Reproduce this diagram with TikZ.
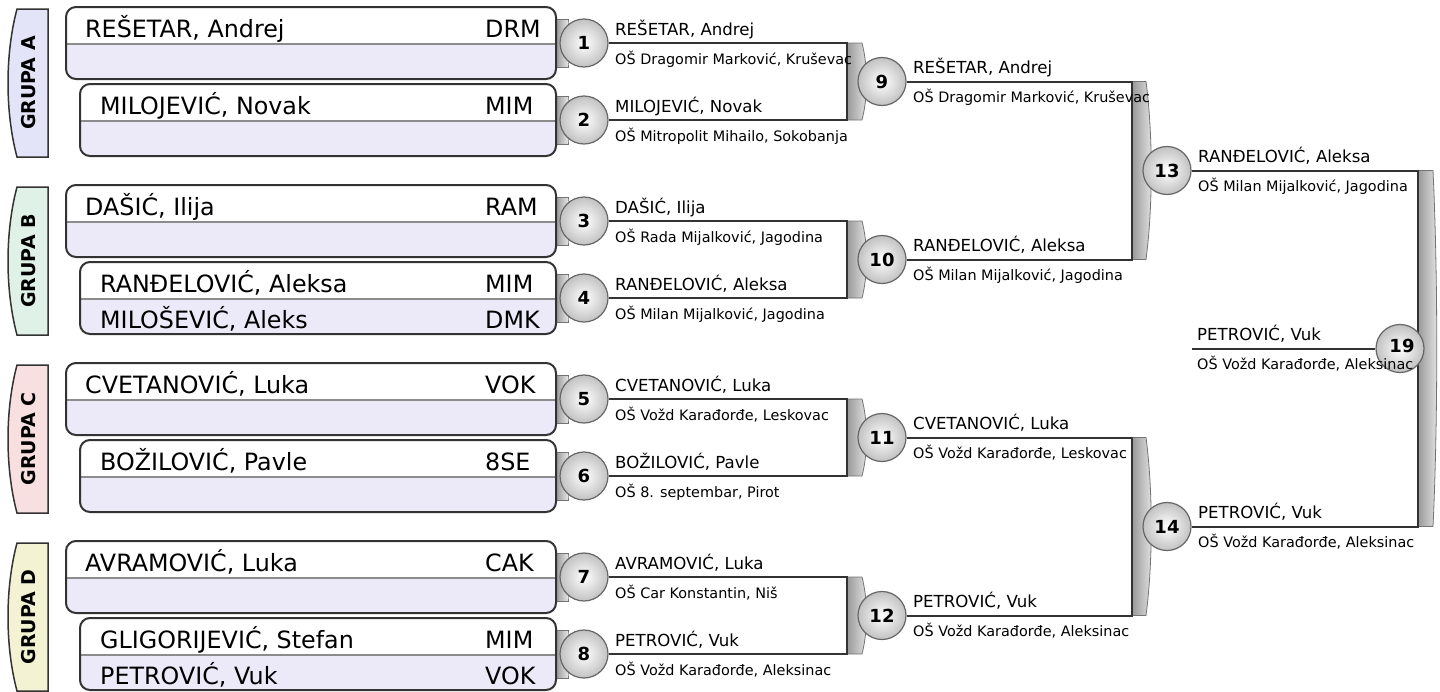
\documentclass[tikz,border=0pt]{standalone}
\usepackage{fontspec}
\setmainfont{DejaVu Sans}
\usetikzlibrary{backgrounds}
\definecolor{lav}{HTML}{ECEAF8}
\definecolor{grpA}{HTML}{E4E4F8}
\definecolor{grpB}{HTML}{E0F2E8}
\definecolor{grpC}{HTML}{F8E0E0}
\definecolor{grpD}{HTML}{F3F3D4}
\definecolor{edgec}{HTML}{333333}

\tikzset{
  conn/.style={draw=edgec, line width=2pt},
  rnd/.style={circle, draw=black!60, line width=1.2pt, minimum size=48pt, inner sep=0pt,
    inner color=white, outer color=black!24, font=\bfseries\fontsize{18}{18}\selectfont},
  winner/.style={anchor=base west, inner sep=0pt, font=\fontsize{16.6}{16.6}\selectfont},
  school/.style={anchor=base west, inner sep=0pt, font=\fontsize{14.4}{14.4}\selectfont},
  pname/.style={anchor=base west, inner sep=0pt, font=\fontsize{23.8}{23.8}\selectfont},
  brfill/.style={left color=black!40, right color=black!10, draw=black!55, line width=0.8pt},
  grplabel/.style={rotate=90, font=\bfseries\fontsize{19}{19}\selectfont},
  boxedge/.style={draw=edgec, line width=2pt, rounded corners=10pt},
  divider/.style={draw=black!45, line width=1.2pt}
}

% player box: #1 id, #2 left x, #3 top y, #4 text x, #5 name1, #6 code1, #7 name2, #8 code2
\newcommand\pbox[8]{%
  \pgfmathsetmacro\pbBot{#3+72}%
  \pgfmathsetmacro\pbDiv{#3+37}%
  \fill[lav, rounded corners=10pt] (#2,#3) rectangle (556,\pbBot);
  \fill[white] (#2,\pbDiv) [rounded corners=10pt]-- (#2,#3) -- (556,#3) [sharp corners]-- (556,\pbDiv) -- cycle;
  \draw[divider] (#2,\pbDiv) -- (556,\pbDiv);
  \draw[boxedge] (#2,#3) rectangle (556,\pbBot);
  \node[pname] (#1a) at (#4,{#3+30}) {#5};
  \node[pname] (#1ac) at (485,{#3+30}) {#6};
  \node[pname] (#1b) at (#4,{#3+66}) {#7};
  \node[pname] (#1bc) at (485,{#3+66}) {#8};
}

% bracket: #1 left x, #2 top y, #3 bottom y, #4 width, #5 bulge
\newcommand\brk[5]{%
  \path[brfill] (#1,#2) -- ({#1+#4},#2) .. controls ({#1+#4+#5},{#2+0.3*(#3-#2)}) and ({#1+#4+#5},{#3-0.3*(#3-#2)}) .. ({#1+#4},#3) -- (#1,#3) -- cycle;
}

\begin{document}
\begin{tikzpicture}[x=1pt,y=-1pt]
\useasboundingbox (0,0) rectangle (1440,691);

% group labels
\foreach \t/\c/\l in {9/grpA/A, 187/grpB/B, 365/grpC/C, 543/grpD/D} {
  \path[draw=edgec, line width=1.5pt, fill=\c] (48,\t) -- (17,\t) .. controls (5,{\t+45}) and (5,{\t+103}) .. (17,{\t+148}) -- (48,{\t+148}) -- cycle;
  \node[grplabel] (g\l) at (29,{\t+74}) {GRUPA \l};
}

% tabs between boxes and first-round circles
\foreach \t in {7,84,185,262,363,440,541,618} {
  \brk{556}{\t+12}{\t+60}{12}{0}
}

% player boxes
\pbox{p1}{66}{7}{85}{REŠETAR, Andrej}{DRM}{}{}
\pbox{p2}{80}{84}{100}{MILOJEVIĆ, Novak}{MIM}{}{}
\pbox{p3}{66}{185}{85}{DAŠIĆ, Ilija}{RAM}{}{}
\pbox{p4}{80}{262}{100}{RANĐELOVIĆ, Aleksa}{MIM}{MILOŠEVIĆ, Aleks}{DMK}
\pbox{p5}{66}{363}{85}{CVETANOVIĆ, Luka}{VOK}{}{}
\pbox{p6}{80}{440}{100}{BOŽILOVIĆ, Pavle}{8SE}{}{}
\pbox{p7}{66}{541}{85}{AVRAMOVIĆ, Luka}{CAK}{}{}
\pbox{p8}{80}{618}{100}{GLIGORIJEVIĆ, Stefan}{MIM}{PETROVIĆ, Vuk}{VOK}

% circles
\node[rnd] (c1) at (584,43) {1};
\node[rnd] (c2) at (584,120) {2};
\node[rnd] (c3) at (584,221) {3};
\node[rnd] (c4) at (584,298) {4};
\node[rnd] (c5) at (584,399) {5};
\node[rnd] (c6) at (584,476) {6};
\node[rnd] (c7) at (584,577) {7};
\node[rnd] (c8) at (584,654) {8};
\node[rnd] (c9) at (882,81.5) {9};
\node[rnd] (c10) at (882,259.5) {10};
\node[rnd] (c11) at (882,437.5) {11};
\node[rnd] (c12) at (882,615.5) {12};
\node[rnd] (c13) at (1167,170.5) {13};
\node[rnd] (c14) at (1167,526.5) {14};
\node[rnd] (c19) at (1400,348.5) {\raisebox{6pt}{\hspace{4pt}19}};

\coordinate (b9) at (847,81.5);
\coordinate (b10) at (847,259.5);
\coordinate (b11) at (847,437.5);
\coordinate (b12) at (847,615.5);
\coordinate (b13) at (1132,170.5);
\coordinate (b14) at (1132,526.5);
\coordinate (b19) at (1418,348.5);
\coordinate (f19) at (1192,348.5);

\begin{scope}[on background layer]
  \brk{847}{43}{120}{15}{6}
  \brk{847}{221}{298}{15}{6}
  \brk{847}{399}{476}{15}{6}
  \brk{847}{577}{654}{15}{6}
  \brk{1132}{81.5}{259.5}{14}{7}
  \brk{1132}{437.5}{615.5}{14}{7}
  \brk{1418}{170.5}{526.5}{15}{5}
  \foreach \a/\b/\w in {1/2/9, 3/4/10, 5/6/11, 7/8/12, 9/10/13, 11/12/14, 13/14/19} {
    \draw[conn] (c\a) -- (c\a -| b\w) -- (c\b -| b\w) -- (c\b);
  }
  \draw[conn] (f19) -- (c19);
\end{scope}

% result texts
\foreach \c/\x/\n/\s in {
  1/615/{REŠETAR, Andrej}/{OŠ Dragomir Marković, Kruševac},
  2/615/{MILOJEVIĆ, Novak}/{OŠ Mitropolit Mihailo, Sokobanja},
  3/615/{DAŠIĆ, Ilija}/{OŠ Rada Mijalković, Jagodina},
  4/615/{RANĐELOVIĆ, Aleksa}/{OŠ Milan Mijalković, Jagodina},
  5/615/{CVETANOVIĆ, Luka}/{OŠ Vožd Karađorđe, Leskovac},
  6/615/{BOŽILOVIĆ, Pavle}/{OŠ 8. septembar, Pirot},
  7/615/{AVRAMOVIĆ, Luka}/{OŠ Car Konstantin, Niš},
  8/615/{PETROVIĆ, Vuk}/{OŠ Vožd Karađorđe, Aleksinac},
  9/913/{REŠETAR, Andrej}/{OŠ Dragomir Marković, Kruševac},
  10/913/{RANĐELOVIĆ, Aleksa}/{OŠ Milan Mijalković, Jagodina},
  11/913/{CVETANOVIĆ, Luka}/{OŠ Vožd Karađorđe, Leskovac},
  12/913/{PETROVIĆ, Vuk}/{OŠ Vožd Karađorđe, Aleksinac},
  13/1198/{RANĐELOVIĆ, Aleksa}/{OŠ Milan Mijalković, Jagodina},
  14/1198/{PETROVIĆ, Vuk}/{OŠ Vožd Karađorđe, Aleksinac},
  19/1197/{PETROVIĆ, Vuk}/{OŠ Vožd Karađorđe, Aleksinac}} {
  \coordinate (xp) at (\x,0);
  \path (c\c) ++(0,-8) coordinate (tn\c);
  \path (c\c) ++(0,21) coordinate (ts\c);
  \node[winner] (w\c) at (tn\c -| xp) {\n};
  \node[school] (s\c) at (ts\c -| xp) {\s};
}
\end{tikzpicture}
\end{document}
